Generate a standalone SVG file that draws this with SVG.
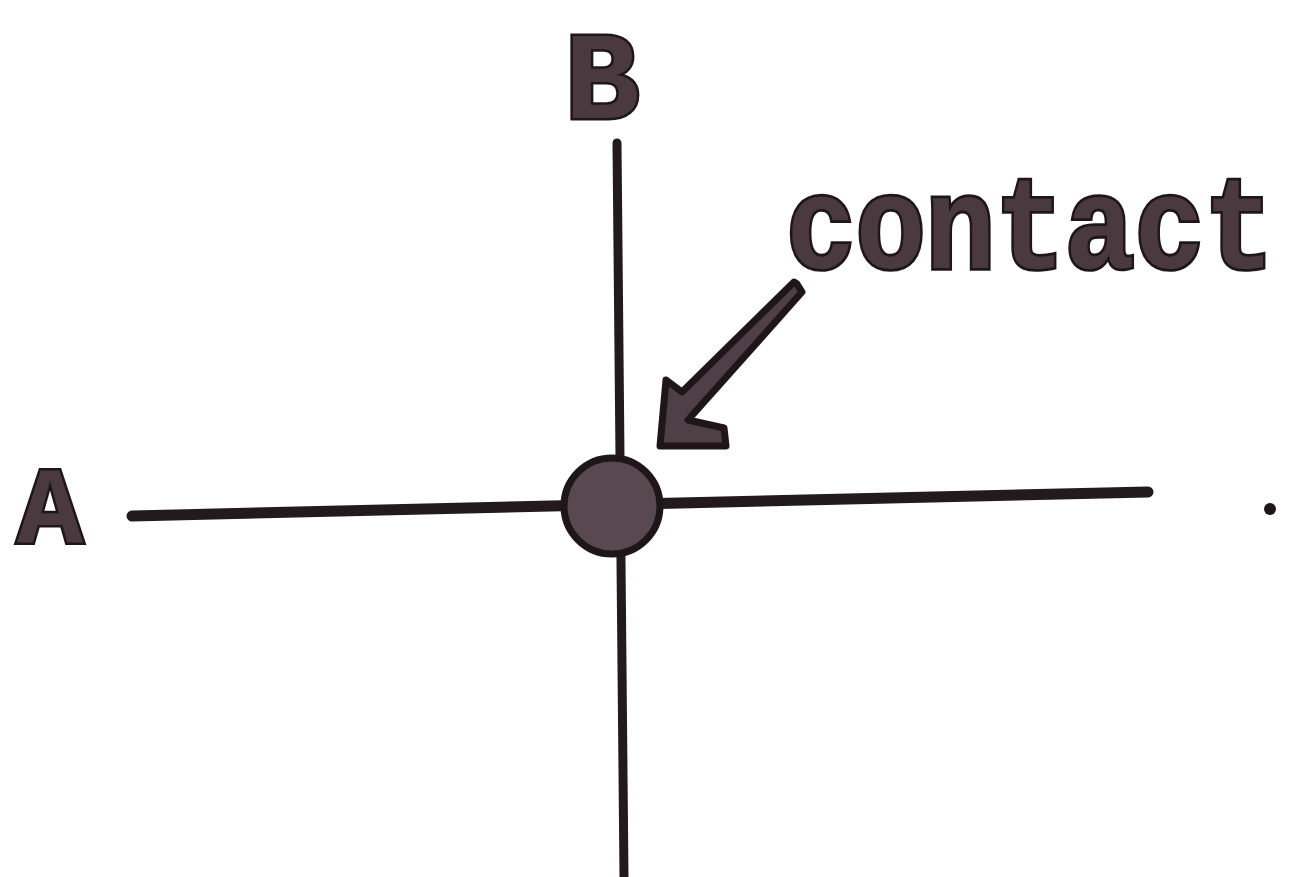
<svg xmlns="http://www.w3.org/2000/svg" width="1299" height="877" viewBox="0 0 1299 877">
<style>
.ln{stroke:#231a1e;stroke-linecap:round;fill:none}
.lbl{font-family:"Liberation Mono","DejaVu Sans Mono",monospace;font-weight:bold;fill:#4a3a40;stroke:#1e1619;stroke-width:5;paint-order:stroke}
</style>
<rect width="1299" height="877" fill="#ffffff"/>
<g id="connectors">
<path class="ln" d="M617,143 L624,877" stroke-width="9"/>
<path class="ln" d="M132,516 L1148,492" stroke-width="11"/>
<path id="arrow" d="M797,284 L802,292 L688,420 L724,428 L726,446 L660,446 L666,380 L682,392 L794,282 Z" fill="#4f3f46" stroke="#1e1619" stroke-width="7" stroke-linejoin="round"/>
</g>
<g id="contact-node">
<circle cx="612" cy="506" r="48" fill="#5a4850" stroke="#1e1619" stroke-width="7"/>
</g>
<g id="label-B"><text class="lbl" x="602" y="118" font-size="125" text-anchor="middle">B</text></g>
<g id="label-A"><text class="lbl" x="50" y="543" font-size="110" text-anchor="middle">A</text></g>
<g id="label-contact"><text class="lbl" transform="translate(786,268) scale(1,1.12)" x="0" y="0" font-size="118" textLength="488" lengthAdjust="spacingAndGlyphs">contact</text></g>
<circle cx="1270" cy="509" r="6" fill="#1e1619"/>
</svg>
